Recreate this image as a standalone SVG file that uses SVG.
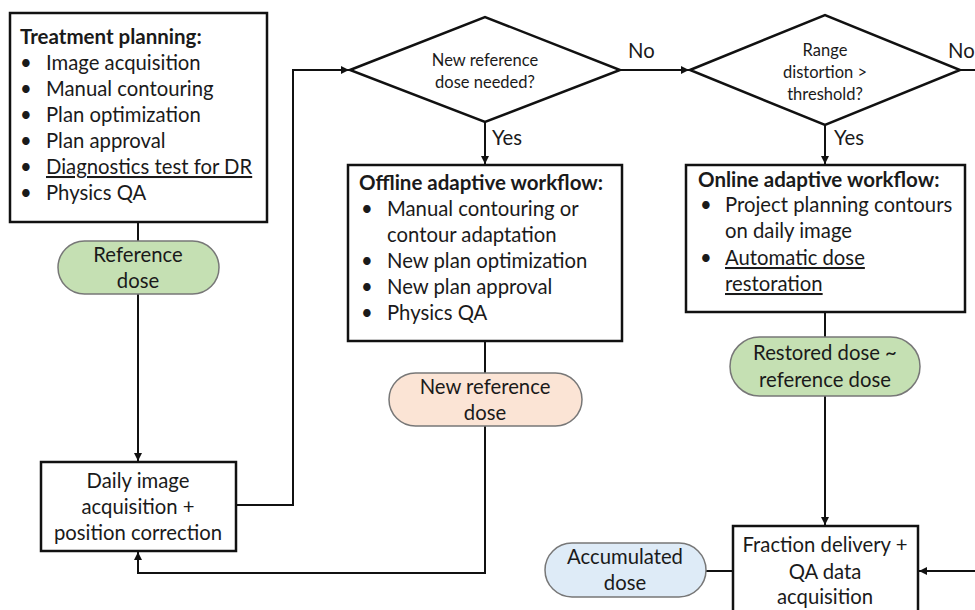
<svg xmlns="http://www.w3.org/2000/svg" width="975" height="610" viewBox="0 0 975 610">
<style>
text{font-family:Lato,"Liberation Sans",sans-serif;fill:#1a1a1a;font-size:20.3px}
.t{font-weight:bold;font-size:20.5px}
.c{text-anchor:middle}
.s{font-size:16.5px}
.u{text-decoration:underline}
.box{fill:#fff;stroke:#111;stroke-width:2.5}
.pill{stroke:#777;stroke-width:1.5}
.ln{fill:none;stroke:#111;stroke-width:2}
</style>
<defs>
<marker id="ar" viewBox="0 0 10 10" refX="10" refY="5" markerWidth="4" markerHeight="4" markerUnits="strokeWidth" orient="auto"><path d="M0,0L10,5L0,10z" fill="#111"/></marker>
</defs>
<g id="connectors">
<path class="ln" d="M138,222V241"/>
<path class="ln" d="M138,294V461" marker-end="url(#ar)"/>
<path class="ln" d="M236,505H293V70H349" marker-end="url(#ar)"/>
<path class="ln" d="M620,70H689" marker-end="url(#ar)"/>
<path class="ln" d="M960,70H975"/>
<path class="ln" d="M485,122V164" marker-end="url(#ar)"/>
<path class="ln" d="M825,125V164" marker-end="url(#ar)"/>
<path class="ln" d="M485,341V373"/>
<path class="ln" d="M485,426V573H138V552" marker-end="url(#ar)"/>
<path class="ln" d="M825,312V337"/>
<path class="ln" d="M825,396V525" marker-end="url(#ar)"/>
<path class="ln" d="M706,571H733"/>
<path class="ln" d="M975,571H919" marker-end="url(#ar)"/>
<text x="628" y="58">No</text>
<text x="948" y="58">No</text>
<text x="492" y="145">Yes</text>
<text x="834" y="145">Yes</text>
</g>
<g id="treatment-planning">
<rect class="box" x="10" y="13" width="257" height="209"/>
<text class="t" x="20" y="44">Treatment planning:</text>
<text x="20" y="70">•</text><text x="46" y="70">Image acquisition</text>
<text x="20" y="96">•</text><text x="46" y="96">Manual contouring</text>
<text x="20" y="122">•</text><text x="46" y="122">Plan optimization</text>
<text x="20" y="148">•</text><text x="46" y="148">Plan approval</text>
<text x="20" y="174">•</text><text class="u" x="46" y="174">Diagnostics test for DR</text>
<text x="20" y="200">•</text><text x="46" y="200">Physics QA</text>
</g>
<g id="reference-dose">
<rect class="pill" x="58" y="241" width="161" height="53" rx="26.5" fill="#c5e0b3"/>
<text class="c" x="138" y="262">Reference</text>
<text class="c" x="138" y="288">dose</text>
</g>
<g id="daily-image">
<rect class="box" x="41" y="462" width="195" height="89"/>
<text class="c" x="138" y="488">Daily image</text>
<text class="c" x="138" y="514">acquisition +</text>
<text class="c" x="138" y="540">position correction</text>
</g>
<g id="decision-new-ref">
<polygon class="box" points="350,70 485,17 620,70 485,122"/>
<text class="c s" x="485" y="66">New reference</text>
<text class="c s" x="485" y="88">dose needed?</text>
</g>
<g id="decision-range">
<polygon class="box" points="690,70 825,15 960,70 825,125"/>
<text class="c s" x="825" y="56">Range</text>
<text class="c s" x="825" y="78">distortion &gt;</text>
<text class="c s" x="825" y="100">threshold?</text>
</g>
<g id="offline-workflow">
<rect class="box" x="348" y="165" width="274" height="176"/>
<text class="t" x="359" y="190">Offline adaptive workflow:</text>
<text x="361" y="216">•</text><text x="387" y="216">Manual contouring or</text>
<text x="387" y="242">contour adaptation</text>
<text x="361" y="268">•</text><text x="387" y="268">New plan optimization</text>
<text x="361" y="294">•</text><text x="387" y="294">New plan approval</text>
<text x="361" y="320">•</text><text x="387" y="320">Physics QA</text>
</g>
<g id="new-reference-dose">
<rect class="pill" x="389" y="373" width="193" height="53" rx="26.5" fill="#fbe4d5"/>
<text class="c" x="485" y="394">New reference</text>
<text class="c" x="485" y="420">dose</text>
</g>
<g id="online-workflow">
<rect class="box" x="686" y="165" width="279" height="147"/>
<text class="t" x="698" y="187">Online adaptive workflow:</text>
<text x="700" y="212">•</text><text x="725" y="212">Project planning contours</text>
<text x="725" y="238">on daily image</text>
<text x="700" y="265">•</text><text class="u" x="725" y="265">Automatic dose</text>
<text class="u" x="725" y="291">restoration</text>
</g>
<g id="restored-dose">
<rect class="pill" x="730" y="337" width="190" height="59" rx="29.5" fill="#c5e0b3"/>
<text class="c" x="825" y="360">Restored dose  ~</text>
<text class="c" x="825" y="387">reference dose</text>
</g>
<g id="fraction-delivery">
<rect class="box" x="733" y="526" width="185" height="90"/>
<text class="c" x="825" y="552">Fraction delivery +</text>
<text class="c" x="825" y="579">QA data</text>
<text class="c" x="825" y="604">acquisition</text>
</g>
<g id="accumulated-dose">
<rect class="pill" x="545" y="543" width="161" height="54" rx="27" fill="#deebf7"/>
<text class="c" x="625" y="564">Accumulated</text>
<text class="c" x="625" y="590">dose</text>
</g>
</svg>
